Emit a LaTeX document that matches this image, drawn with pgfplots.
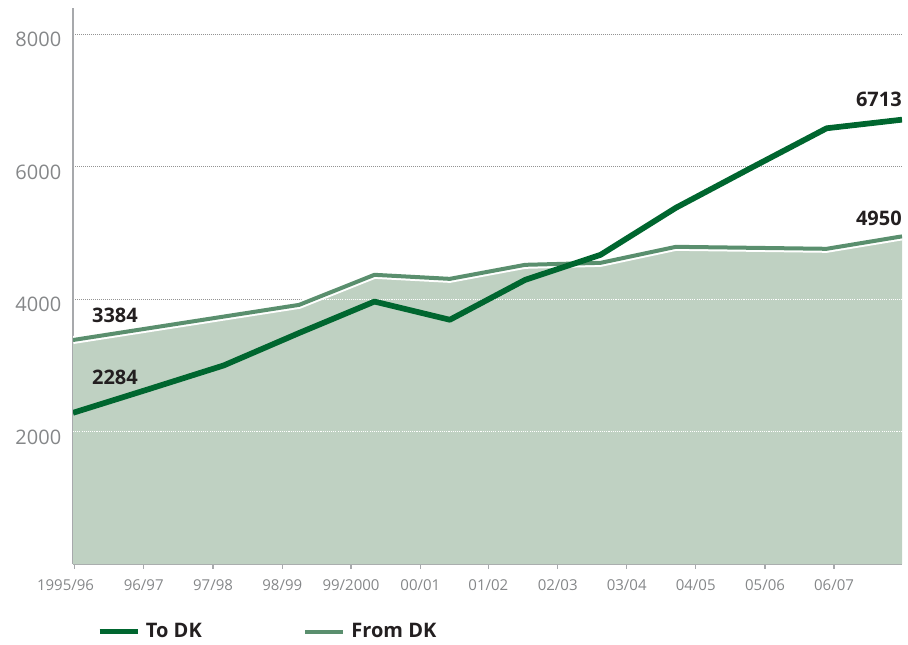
\documentclass[border=0pt]{standalone}
\usepackage{fontspec}
\setmainfont{Open Sans}
\usepackage{pgfplots}
\usepackage{pgfplotstable}
\pgfplotsset{compat=1.18}
\definecolor{todk}{HTML}{00662F}
\definecolor{fromdk}{HTML}{5A8F6E}
\definecolor{areafill}{HTML}{BFD1C2}
\definecolor{tickgray}{HTML}{858789}
\definecolor{axisgray}{HTML}{A7A9AC}
\definecolor{gridgray}{HTML}{939393}
\definecolor{txt}{HTML}{231F20}

\pgfplotstableread{
x to from
0 2284 3384
1 2640 3561
2 3000 3738
3 3490 3915
4 3965 4369
5 3690 4308
6 4293 4520
7 4671 4550
8 5382 4792
9 5986 4777
10 6583 4762
11 6713 4950
}\datatable

\begin{document}
\begin{tikzpicture}
\useasboundingbox (0,0) rectangle (681pt,483pt);
\begin{axis}[
  at={(54.75pt,60pt)}, anchor=south west,
  scale only axis, width=621.75pt, height=417pt,
  xmin=0, xmax=11, ymin=0, ymax=8400,
  axis x line*=bottom, axis y line*=left,
  axis line style={-, draw=axisgray, line width=1.5pt},
  xtick={0.02,0.938,1.858,2.777,3.689,4.609,5.511,6.432,7.347,8.263,9.183,10.098},
  xticklabels={{\makebox[0pt]{\kern-13.5pt 1995/96}},96/97,97/98,98/99,99/2000,00/01,01/02,02/03,03/04,04/05,05/06,06/07},
  xtick style={draw=axisgray, line width=1pt},
  major tick length=6.75pt,
  tick align=center,
  ytick={2000,4000,6000,8000},
  ytick style={draw=none},
  ymajorgrids,
  major grid style={gridgray, line width=0.9pt, dash pattern=on 0.8pt off 0.7pt},
  /pgf/number format/assume math mode=true,
  /pgf/number format/1000 sep={},
  scaled y ticks=false,
  yticklabel style={font=\fontsize{15}{18}\selectfont, text=tickgray, inner sep=0pt, anchor=east, xshift=-5.25pt, yshift=-4pt},
  xticklabel style={font=\fontsize{11.25}{13}\selectfont, text=tickgray, inner sep=0pt, anchor=north, yshift=-8.25pt},
  legend style={at={(0.029,-0.122)}, anchor=west, draw=none, fill=none, inner sep=0pt,
    font=\fontsize{15}{18}\selectfont\bfseries, text=txt, legend columns=2,
    nodes={inner sep=0pt},
    /tikz/every odd column/.append style={column sep=4.5pt},
    /tikz/every even column/.append style={column sep=76pt}},
  legend image code/.code={\draw[#1] (0pt,0pt) -- (28.5pt,0pt);},
]
\addlegendimage{todk, line width=3.5pt}
\addlegendentry{To DK}
\addlegendimage{fromdk, line width=3.2pt}
\addlegendentry{From DK}

\addplot[draw=none, fill=areafill, forget plot] table[x=x,y=from]{\datatable} \closedcycle;
\addplot[white, line width=0.8pt, dash pattern=on 0.8pt off 0.8pt, forget plot] coordinates {(0,2000) (11,2000)};
\addplot[white, line width=0.8pt, dash pattern=on 0.8pt off 0.8pt, forget plot] coordinates {(3.32,4000) (11,4000)};
\addplot[white, line width=6pt, line join=round, forget plot] table[x=x,y=from]{\datatable};
\addplot[fromdk, line width=3pt, line join=round, forget plot] table[x=x,y=from]{\datatable};
\addplot[todk, line width=4.3pt, line join=round, forget plot] table[x=x,y=to]{\datatable};

\node[anchor=west, font=\fontsize{15}{18}\selectfont\bfseries, text=txt, inner sep=0pt] at (axis cs:0.25,3750) {3384};
\node[anchor=west, font=\fontsize{15}{18}\selectfont\bfseries, text=txt, inner sep=0pt] at (axis cs:0.25,2827) {2284};
\node[anchor=east, font=\fontsize{15}{18}\selectfont\bfseries, text=txt, inner sep=0pt] at (axis cs:11,7014) {6713};
\node[anchor=east, font=\fontsize{15}{18}\selectfont\bfseries, text=txt, inner sep=0pt] at (axis cs:11,5215) {4950};
\end{axis}
\end{tikzpicture}
\end{document}
